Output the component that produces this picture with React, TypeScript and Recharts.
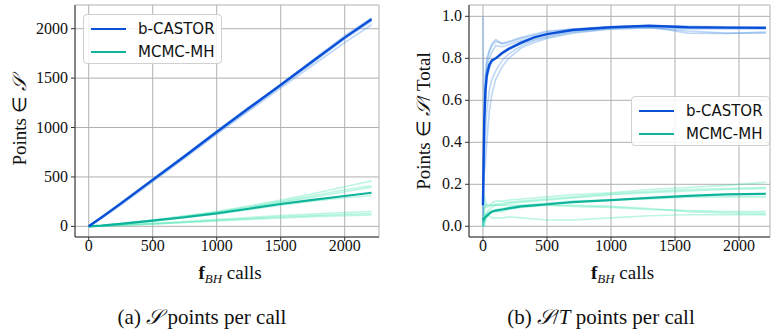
import React from 'react';
import { LineChart, Line, XAxis, YAxis, CartesianGrid } from 'recharts';

// ---------- data: (a) cumulative points in S ----------
const xA = [0, 100, 250, 500, 750, 1000, 1250, 1500, 1750, 2000, 2210];
const castorMeanA = [0, 90, 230, 470, 710, 955, 1195, 1430, 1670, 1910, 2095];
const castorRunsA = [
  [0, 95, 240, 480, 720, 965, 1205, 1440, 1685, 1930, 2110],
  [0, 85, 220, 460, 700, 945, 1180, 1420, 1655, 1895, 2075],
  [0, 80, 215, 450, 690, 930, 1165, 1400, 1630, 1860, 2040],
  [0, 92, 235, 475, 715, 960, 1200, 1435, 1675, 1915, 2100],
];
const mcmcMeanA = [0, 8, 25, 57, 92, 131, 178, 226, 268, 307, 340];
const mcmcRunsA = [
  [0, 8, 27, 62, 105, 150, 205, 265, 330, 400, 460],
  [0, 9, 28, 63, 103, 145, 195, 250, 310, 370, 410],
  [0, 7, 24, 58, 96, 138, 185, 240, 295, 350, 395],
  [0, 6, 22, 52, 88, 125, 168, 215, 255, 290, 310],
  [0, 5, 15, 30, 48, 70, 90, 108, 125, 140, 150],
  [0, 4, 12, 25, 42, 60, 78, 95, 110, 122, 130],
  [0, 3, 10, 22, 38, 55, 70, 85, 98, 108, 115],
];

// ---------- data: (b) ratio S / total ----------
const xB = [0, 5, 10, 20, 30, 50, 70, 100, 150, 200, 300, 400, 500, 700, 1000, 1300, 1600, 1900, 2210];
const castorMeanB = [0.1, 0.3, 0.5, 0.65, 0.72, 0.77, 0.79, 0.8, 0.825, 0.845, 0.875, 0.9, 0.915, 0.935, 0.948, 0.955, 0.948, 0.946, 0.945];
const castorRunsB = [
  [1.0, 0.6, 0.55, 0.7, 0.78, 0.83, 0.86, 0.88, 0.87, 0.875, 0.895, 0.91, 0.925, 0.94, 0.95, 0.955, 0.952, 0.95, 0.95],
  [0.2, 0.4, 0.55, 0.72, 0.8, 0.84, 0.87, 0.89, 0.87, 0.88, 0.9, 0.915, 0.93, 0.94, 0.95, 0.95, 0.945, 0.945, 0.945],
  [0.1, 0.2, 0.3, 0.45, 0.55, 0.65, 0.7, 0.74, 0.79, 0.82, 0.86, 0.885, 0.9, 0.925, 0.94, 0.945, 0.93, 0.92, 0.92],
  [0.0, 0.15, 0.25, 0.3, 0.4, 0.55, 0.63, 0.7, 0.76, 0.8, 0.85, 0.875, 0.895, 0.92, 0.94, 0.945, 0.94, 0.94, 0.94],
  [0.1, 0.35, 0.5, 0.68, 0.75, 0.8, 0.83, 0.86, 0.855, 0.865, 0.885, 0.9, 0.915, 0.935, 0.95, 0.955, 0.95, 0.948, 0.948],
  [0.05, 0.3, 0.45, 0.6, 0.7, 0.75, 0.78, 0.8, 0.82, 0.84, 0.87, 0.89, 0.905, 0.93, 0.945, 0.95, 0.92, 0.918, 0.925],
];
const mcmcMeanB = [0.04, 0.03, 0.035, 0.045, 0.05, 0.06, 0.07, 0.075, 0.08, 0.085, 0.095, 0.1, 0.105, 0.115, 0.125, 0.135, 0.145, 0.152, 0.155];
const mcmcRunsB = [
  [0.0, 0.1, 0.15, 0.12, 0.1, 0.1, 0.11, 0.12, 0.12, 0.125, 0.13, 0.135, 0.14, 0.15, 0.16, 0.175, 0.185, 0.195, 0.21],
  [0.0, 0.05, 0.08, 0.1, 0.09, 0.095, 0.1, 0.105, 0.11, 0.115, 0.12, 0.125, 0.13, 0.14, 0.155, 0.165, 0.175, 0.18, 0.185],
  [0.0, 0.0, 0.02, 0.05, 0.07, 0.08, 0.09, 0.1, 0.1, 0.11, 0.115, 0.12, 0.125, 0.135, 0.15, 0.16, 0.168, 0.175, 0.18],
  [0.0, 0.0, 0.0, 0.02, 0.04, 0.06, 0.07, 0.08, 0.085, 0.09, 0.1, 0.105, 0.11, 0.12, 0.125, 0.13, 0.138, 0.14, 0.14],
  [0.0, 0.05, 0.08, 0.1, 0.1, 0.1, 0.1, 0.1, 0.1, 0.1, 0.1, 0.1, 0.1, 0.095, 0.09, 0.08, 0.075, 0.07, 0.07],
  [0.0, 0.0, 0.02, 0.05, 0.06, 0.07, 0.07, 0.07, 0.07, 0.08, 0.09, 0.095, 0.1, 0.1, 0.095, 0.085, 0.07, 0.063, 0.06],
  [0.0, 0.02, 0.04, 0.06, 0.06, 0.05, 0.04, 0.04, 0.04, 0.045, 0.04, 0.035, 0.03, 0.03, 0.04, 0.05, 0.055, 0.055, 0.055],
];

const xTicks = [0, 500, 1000, 1500, 2000];
const yTicksA = [0, 500, 1000, 1500, 2000];
const yTicksB = [0, 0.2, 0.4, 0.6, 0.8, 1.0];
const seriesNames = ['b-CASTOR', 'MCMC-MH'];

const BLUE = '#0a4fd8';
const BLUE_LIGHT = '#5a9ae6';
const TEAL = '#0fb39b';
const TEAL_LIGHT = '#3fe6b0';
const AXIS = '#333333';
const GRID = '#b0b0b0';
const SERIF = 'Liberation Serif';
const SANS = 'DejaVu Sans';

const toData = (xs: number[], ys: number[]) => xs.map((x, i) => ({ x, y: ys[i] }));

const renderXTick = (props: any) => {
  const { x, y, payload } = props;
  return (
    <text x={x} y={y + 7} textAnchor="middle" fontFamily={SERIF} fontSize={16} fill="#111">
      {payload.value}
    </text>
  );
};

const makeYTick = (fmt: (v: number) => string) => (props: any) => {
  const { x, y, payload } = props;
  return (
    <text x={x} y={y} dy={5} textAnchor="end" fontFamily={SERIF} fontSize={16} fill="#111">
      {fmt(payload.value)}
    </text>
  );
};

const renderXLabel = (props: any) => {
  const vb = props.viewBox || {};
  const cx = vb.x + vb.width / 2 + 3;
  return (
    <text x={cx} y={279} textAnchor="middle" fontFamily={SERIF} fontSize={19} fill="#111">
      <tspan fontWeight="bold">f</tspan>
      <tspan fontStyle="italic" fontSize={13} dy={4}>BH</tspan>
      <tspan dy={-4}> calls</tspan>
    </text>
  );
};

const makeYLabel = (cx: number, content: React.ReactNode) => () => (
  <text x={cx} y={121} transform={`rotate(-90 ${cx} 121)`} textAnchor="middle" fontFamily={SERIF} fontSize={19} fill="#111" dominantBaseline="central">
    {content}
  </text>
);

function Panel(props: {
  width: number; plotLeft: number; plotRight: number;
  xDomain: [number, number]; yDomain: [number, number]; yTicks: number[];
  yFmt: (v: number) => string; xs: number[];
  castorRuns: number[][]; castorMean: number[]; mcmcRuns: number[][]; mcmcMean: number[];
  yLabel: () => React.ReactElement;
}) {
  return (
    <LineChart width={props.width} height={331} style={{ fontFamily: SERIF }} margin={{ top: 5, right: props.width - props.plotRight, left: 0, bottom: 0 }}>
      <CartesianGrid stroke={GRID} strokeWidth={1} />
      <XAxis xAxisId={0} dataKey="x" type="number" domain={props.xDomain} ticks={xTicks} allowDataOverflow
        height={94} tick={renderXTick} tickSize={4} tickMargin={3} stroke={AXIS} interval={0}
        label={renderXLabel} />
      <XAxis xAxisId="top" orientation="top" type="number" domain={props.xDomain} height={0} tick={false} tickLine={false} stroke={AXIS} />
      <YAxis yAxisId={0} type="number" domain={props.yDomain} ticks={props.yTicks} allowDataOverflow
        width={props.plotLeft} tick={makeYTick(props.yFmt)} tickSize={4} tickMargin={3} stroke={AXIS} interval={0}
        label={props.yLabel} />
      <YAxis yAxisId="right" orientation="right" type="number" domain={props.yDomain} width={0} tick={false} tickLine={false} stroke={AXIS} />
      {props.mcmcRuns.map((r, i) => (
        <Line key={'m' + i} data={toData(props.xs, r)} dataKey="y" stroke={TEAL_LIGHT} strokeOpacity={0.35} strokeWidth={1.6} dot={false} activeDot={false} isAnimationActive={false} />
      ))}
      {props.castorRuns.map((r, i) => (
        <Line key={'c' + i} data={toData(props.xs, r)} dataKey="y" stroke={BLUE_LIGHT} strokeOpacity={0.4} strokeWidth={1.6} dot={false} activeDot={false} isAnimationActive={false} />
      ))}
      <Line data={toData(props.xs, props.mcmcMean)} dataKey="y" name={seriesNames[1]} stroke={TEAL} strokeWidth={2.2} dot={false} activeDot={false} isAnimationActive={false} />
      <Line data={toData(props.xs, props.castorMean)} dataKey="y" name={seriesNames[0]} stroke={BLUE} strokeWidth={2.4} dot={false} activeDot={false} isAnimationActive={false} />
    </LineChart>
  );
}

function LegendBox({ left, top }: { left: number; top: number }) {
  const row = (color: string, name: string, y: number) => (
    <div style={{ position: 'absolute', left: 0, top: y, height: 20, width: '100%' }}>
      <div style={{ position: 'absolute', left: 7, top: 9, width: 35, height: 2.4, background: color }} />
      <div style={{ position: 'absolute', left: 54, top: 0, fontFamily: SANS, fontSize: 15, lineHeight: '20px', color: '#111', whiteSpace: 'nowrap' }}>{name}</div>
    </div>
  );
  return (
    <div style={{ position: 'absolute', left, top, width: 139, height: 50, border: '1px solid #d0d0d0', borderRadius: 4, background: 'rgba(255,255,255,0.85)', boxSizing: 'border-box' }}>
      {row(BLUE, seriesNames[0], 4)}
      {row(TEAL, seriesNames[1], 27)}
    </div>
  );
}

export default function App() {
  return (
    <div style={{ position: 'absolute', left: 0, top: 0, width: 771, height: 331, background: '#fff', overflow: 'hidden', fontFamily: SERIF }}>
      <div style={{ position: 'absolute', left: 0, top: 0 }}>
        <Panel width={390} plotLeft={75} plotRight={379} xDomain={[-107, 2268]} yDomain={[-108, 2240]} yTicks={yTicksA}
          yFmt={(v) => String(v)} xs={xA} castorRuns={castorRunsA} castorMean={castorMeanA} mcmcRuns={mcmcRunsA} mcmcMean={mcmcMeanA}
          yLabel={makeYLabel(19, <>Points ∈ <tspan fontStyle="italic">𝒮</tspan></>)} />
      </div>
      <div style={{ position: 'absolute', left: 390, top: 0 }}>
        <Panel width={381} plotLeft={79} plotRight={380} xDomain={[-109, 2242]} yDomain={[-0.051, 1.054]} yTicks={yTicksB}
          yFmt={(v) => v.toFixed(1)} xs={xB} castorRuns={castorRunsB} castorMean={castorMeanB} mcmcRuns={mcmcRunsB} mcmcMean={mcmcMeanB}
          yLabel={makeYLabel(33, <>Points ∈ <tspan fontStyle="italic">𝒮</tspan>/ Total</>)} />
      </div>
      <LegendBox left={83} top={14} />
      <LegendBox left={631} top={96} />
      <div style={{ position: 'absolute', left: 0, width: 404, top: 305, textAlign: 'center', fontFamily: SERIF, fontSize: 21, color: '#111' }}>
        (a) <i>𝒮</i> points per call
      </div>
      <div style={{ position: 'absolute', left: 400, width: 402, top: 305, textAlign: 'center', fontFamily: SERIF, fontSize: 21, color: '#111' }}>
        (b) <i>𝒮</i>/<i>T</i> points per call
      </div>
    </div>
  );
}
